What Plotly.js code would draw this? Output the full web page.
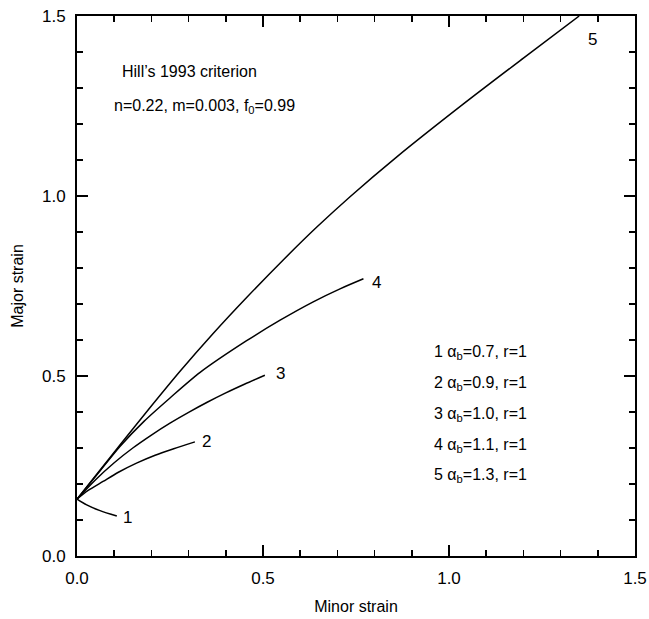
<!DOCTYPE html>
<html>
<head>
<meta charset="utf-8">
<script src="https://cdn.plot.ly/plotly-3.0.1.min.js"></script>
<style>html,body{margin:0;padding:0;background:#fff;}#chart{width:649px;height:619px;}</style>
</head>
<body>
<div id="chart"></div>
<script>
// Curve data (minor strain x, major strain y)
const curve1X = [0, 0.026, 0.062, 0.107];
const curve1Y = [0.158, 0.142, 0.126, 0.111];
const curve2X = [0, 0.03, 0.07, 0.11, 0.16, 0.21, 0.26, 0.317];
const curve2Y = [0.158, 0.182, 0.207, 0.232, 0.258, 0.280, 0.298, 0.317];
const curve3X = [0, 0.05, 0.1, 0.15, 0.2, 0.25, 0.3, 0.35, 0.4, 0.45, 0.505];
const curve3Y = [0.158, 0.212, 0.259, 0.3, 0.336, 0.369, 0.399, 0.427, 0.453, 0.477, 0.502];
const curve4X = [0, 0.06, 0.116, 0.18, 0.25, 0.331, 0.456, 0.546, 0.635, 0.707, 0.77];
const curve4Y = [0.158, 0.234, 0.305, 0.374, 0.439, 0.51, 0.598, 0.655, 0.706, 0.742, 0.77];
const curve5X = [0, 0.06, 0.116, 0.19, 0.277, 0.366, 0.456, 0.555, 0.644, 0.734, 0.859, 1.038, 1.2, 1.35];
const curve5Y = [0.158, 0.236, 0.309, 0.404, 0.513, 0.618, 0.718, 0.823, 0.913, 0.998, 1.108, 1.255, 1.383, 1.5];

const curveLabels = ["1", "2", "3", "4", "5"];
const alphaB = ["0.7", "0.9", "1.0", "1.1", "1.3"];
const rValues = ["1", "1", "1", "1", "1"];
const tickVals = [0, 0.5, 1.0, 1.5];
const tickText = ["0.0", "0.5", "1.0", "1.5"];

const FONT = "Liberation Sans, Arial, Helvetica, sans-serif";
const lineStyle = {color: "#000", width: 1.5};
const xs = [curve1X, curve2X, curve3X, curve4X, curve5X];
const ys = [curve1Y, curve2Y, curve3Y, curve4Y, curve5Y];
const traces = xs.map((x, i) => ({
  x: x, y: ys[i], mode: "lines", type: "scatter",
  line: Object.assign({shape: "spline", smoothing: 0.8}, lineStyle),
  showlegend: false, hoverinfo: "skip"
}));

// curve label positions (layout positions, data coords)
const labelPos = [[0.137, 0.108], [0.349, 0.317], [0.548, 0.506], [0.804, 0.761], [1.387, 1.436]];
const annotations = [];
curveLabels.forEach((t, i) => {
  annotations.push({x: labelPos[i][0], y: labelPos[i][1], xref: "x", yref: "y", text: t,
    showarrow: false, xanchor: "center", yanchor: "middle", font: {family: FONT, size: 17, color: "#000"}});
});
const legY = [0.564, 0.478, 0.394, 0.308, 0.225];
curveLabels.forEach((t, i) => {
  annotations.push({x: 0.954, y: legY[i], xref: "x", yref: "y",
    text: t + " α<sub>b</sub>=" + alphaB[i] + ", r=" + rValues[i],
    showarrow: false, xanchor: "left", yanchor: "middle", font: {family: FONT, size: 16, color: "#000"}});
});
annotations.push({x: 0.116, y: 1.345, xref: "x", yref: "y", text: "Hill’s 1993 criterion",
  showarrow: false, xanchor: "left", yanchor: "middle", font: {family: FONT, size: 16, color: "#000"}});
annotations.push({x: 0.095, y: 1.25, xref: "x", yref: "y", text: "n=0.22, m=0.003, f<sub>0</sub>=0.99",
  showarrow: false, xanchor: "left", yanchor: "middle", font: {family: FONT, size: 16, color: "#000"}});

const axisCommon = {
  range: [0, 1.5], tickvals: tickVals, ticktext: tickText,
  ticks: "inside", ticklen: 11, tickwidth: 1.5, tickcolor: "#000",
  minor: {dtick: 0.1, ticks: "inside", ticklen: 6, tickwidth: 1.5, tickcolor: "#000", showgrid: false},
  showline: true, linecolor: "#000", linewidth: 2, mirror: "allticks",
  showgrid: false, zeroline: false,
  tickfont: {family: FONT, size: 17, color: "#000"}
};

const layout = {
  width: 649, height: 619,
  margin: {l: 77, r: 14, t: 16, b: 63},
  paper_bgcolor: "#fff", plot_bgcolor: "#fff",
  font: {family: FONT, color: "#000"},
  xaxis: Object.assign({}, axisCommon, {ticklabelstandoff: 6,
    title: {text: "Minor strain", font: {family: FONT, size: 16, color: "#000"}, standoff: 13}}),
  yaxis: Object.assign({}, axisCommon, {ticklabelstandoff: 6,
    title: {text: "Major strain", font: {family: FONT, size: 16, color: "#000"}, standoff: 14}}),
  annotations: annotations
};

Plotly.newPlot("chart", traces, layout, {staticPlot: true, displayModeBar: false});
</script>
</body>
</html>
